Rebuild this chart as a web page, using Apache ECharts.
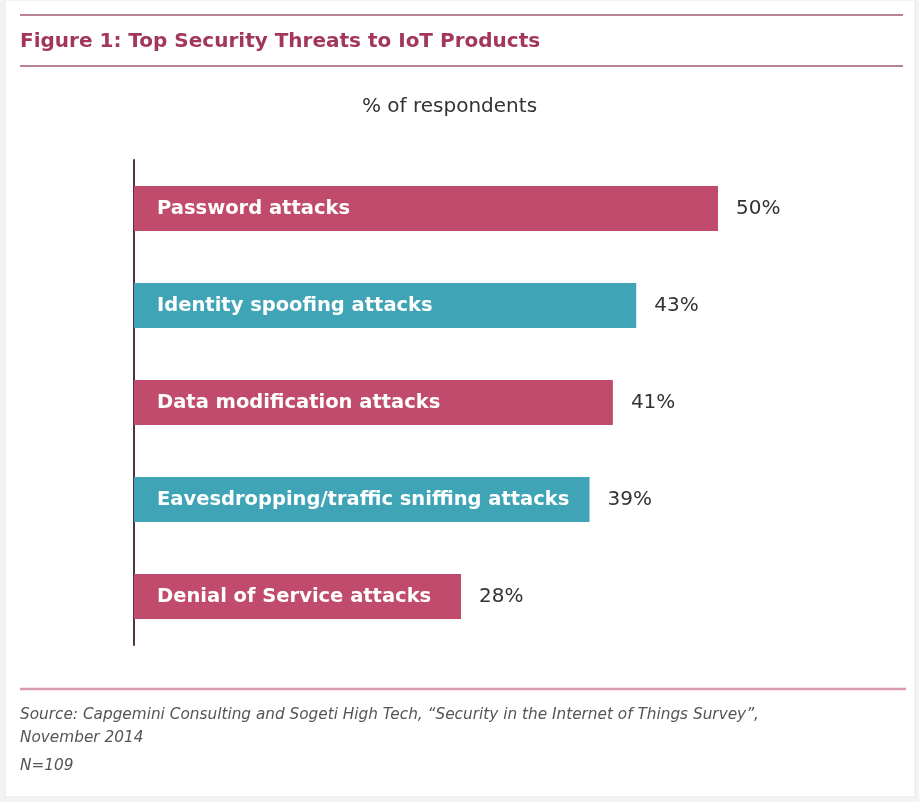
<!DOCTYPE html>
<html>
<head>
<meta charset="utf-8">
<script src="https://cdn.jsdelivr.net/npm/echarts@6/dist/echarts.min.js"></script>
<style>
  html, body { margin: 0; padding: 0; background: #f3f3f3; }
  #chart { width: 919px; height: 802px; }
</style>
</head>
<body>
<div id="chart"></div>
<script>
// threats, top to bottom as in the figure
var threats = ['Password attacks', 'Identity spoofing attacks', 'Data modification attacks',
  'Eavesdropping/traffic sniffing attacks', 'Denial of Service attacks'];
var shares = [50, 43, 41, 39, 28];
var barColors = ['#c14b6c', '#3fa4b6', '#c14b6c', '#3fa4b6', '#c14b6c'];

var font = '"DejaVu Sans", "Liberation Sans", sans-serif';

var chart = echarts.init(document.getElementById('chart'));

var barData = shares.map(function (v, i) {
  return { value: v, itemStyle: { color: barColors[i] } };
});

var option = {
  animation: false,
  backgroundColor: '#f3f3f3',
  graphic: [
    { type: 'rect', z: -10, shape: { x: 5, y: 0, width: 910, height: 797 },
      style: { fill: '#ffffff', stroke: '#e8e8e8', lineWidth: 1 } },
    { type: 'line', shape: { x1: 20, y1: 15, x2: 903, y2: 15 }, style: { stroke: '#b9819a', lineWidth: 2 } },
    { type: 'line', shape: { x1: 20, y1: 66, x2: 903, y2: 66 }, style: { stroke: '#b9819a', lineWidth: 2 } },
    { type: 'line', shape: { x1: 20, y1: 689, x2: 906, y2: 689 }, style: { stroke: '#d99aab', lineWidth: 2.5 } },
    { type: 'text', left: 20, top: 704, style: {
        text: 'Source: Capgemini Consulting and Sogeti High Tech, \u201cSecurity in the Internet of Things Survey\u201d,\nNovember 2014',
        font: 'italic 15.3px ' + font, fill: '#555555', lineHeight: 23 } },
    { type: 'text', left: 20, top: 759, style: {
        text: 'N=109', font: 'italic 15.3px ' + font, fill: '#555555' } }
  ],
  title: [
    { text: 'Figure 1: Top Security Threats to IoT Products', left: 15, top: 27,
      textStyle: { fontFamily: font, fontSize: 20, fontWeight: 'bold', color: '#a3365b' } },
    { text: '% of respondents', left: 357, top: 92,
      textStyle: { fontFamily: font, fontSize: 20, fontWeight: 'normal', color: '#333333' } }
  ],
  grid: { left: 134, right: 201, top: 160, bottom: 157 },
  xAxis: {
    type: 'value', min: 0, max: 50, show: false
  },
  yAxis: {
    type: 'category', data: threats, inverse: true,
    axisLine: { show: true, lineStyle: { color: '#4d3343', width: 2 } },
    axisTick: { show: false },
    axisLabel: { show: false },
    splitLine: { show: false }
  },
  series: [
    {
      type: 'bar', data: barData, barWidth: 45,
      label: {
        show: true, position: 'insideLeft', distance: 23,
        formatter: function (p) { return p.name; },
        fontFamily: font, fontSize: 19.5, fontWeight: 'bold', color: '#ffffff'
      }
    },
    {
      type: 'bar', data: shares, barWidth: 45, barGap: '-100%', silent: true,
      itemStyle: { color: 'rgba(0,0,0,0)' },
      label: {
        show: true, position: 'right', distance: 18,
        formatter: function (p) { return p.value + '%'; },
        fontFamily: font, fontSize: 20, color: '#333333'
      }
    }
  ]
};

chart.setOption(option);
</script>
</body>
</html>
